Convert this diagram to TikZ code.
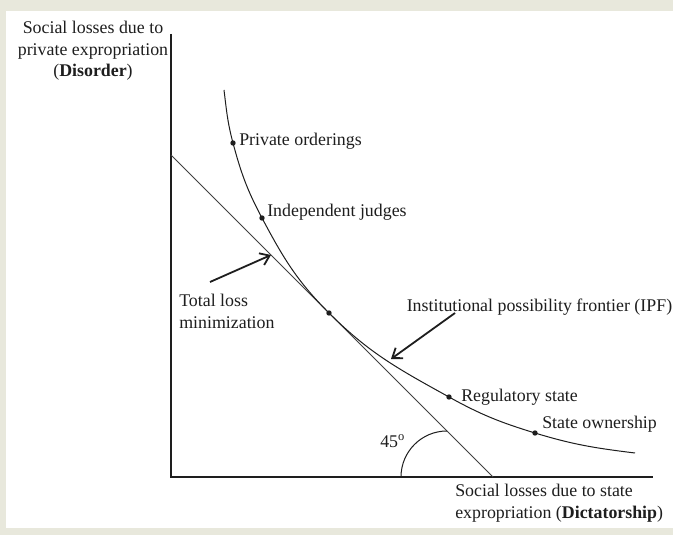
\documentclass[tikz,border=0pt]{standalone}
\usepackage{fontspec}
\setmainfont{Liberation Serif}
\usetikzlibrary{arrows.meta}
\definecolor{pagebg}{RGB}{232,232,220}
\definecolor{ink}{RGB}{30,30,30}

\begin{document}
\begin{tikzpicture}[x=0.025cm, y=0.025cm,
    lbl/.style={inner sep=0pt, text=ink, font=\fontsize{12.7}{15.3}\selectfont},
    pointer/.style={-{Straight Barb[length=2.2mm, width=3.2mm]}, line width=.45mm, ink},
    axis/.style={line width=.35mm, ink},
    thinline/.style={line width=.25mm, ink}]

        \fill[pagebg](0, 0) rectangle (673, 535);
        \fill[white](6, 7) rectangle (673, 524);
        \useasboundingbox(0, 0) rectangle (673, 535);

        % axes
        \coordinate (ytop) at(171, 501);
        \coordinate (orig) at(171, 58);
        \coordinate (xend) at(653, 58);
        \draw[axis](ytop) -- (orig) -- (xend);

        % 45 degree line
        \coordinate (lntop) at(171, 380);
        \coordinate (lnbot) at(493, 58);
        \draw[thinline, ink!85](lntop) to (lnbot);

        % frontier
        \coordinate (ipf0) at(224, 445);
        \coordinate (po) at(233, 392);
        \coordinate (ij) at(262, 317);
        \coordinate (tl) at(329, 222);
        \coordinate (rs) at(449, 138);
        \coordinate (so) at(535, 102);
        \coordinate (ipf1) at(635, 82);
        \draw[thinline](ipf0) to[out=-83, in=105] (po)
            to[out=-75, in=118] (ij)
            to[out=-62, in=135] (tl)
            to[out=-45, in=151] (rs)
            to[out=-29, in=163] (so)
            to[out=-17, in=173] (ipf1);
        \foreach \p in {po, ij, tl, rs, so}
            \fill[ink](\p) circle (1.9pt);

        \node[lbl, anchor=base west] (polab) at(239, 389){Private orderings};
        \node[lbl, anchor=base west] (ijlab) at(267, 318){Independent judges};
        \node[lbl, anchor=base west] (rslab) at(461, 134){Regulatory state};
        \node[lbl, anchor=base west] (solab) at(542, 107){State ownership};

        % pointers
        \node[lbl, align=left, anchor=north west] (tlm) at(179, 241){Total loss\\minimization};
        \coordinate (tlmtail) at(210, 253);
        \coordinate (tlmhead) at(271, 280);
        \draw[pointer](tlmtail) to (tlmhead);

        \node[lbl, anchor=base west] (ipflab) at(406.5, 223){Institutional possibility frontier (IPF)};
        \coordinate (ipftail) at(455, 222);
        \coordinate (ipfhead) at(391, 176);
        \draw[pointer](ipftail) to (ipfhead);

        % angle
        \coordinate (arcst) at(401, 58);
        \draw[thinline](arcst) arc[start angle=180, end angle=90, radius=1.15cm];
        \node[lbl, anchor=base west] (deg) at(380, 88){45\textsuperscript{o}};

        % axis labels
        \node[lbl, align=center] (ylab) at(93, 484){Social losses due to\\private expropriation\\(\textbf{Disorder})};
        \node[lbl, align=left, anchor=north west] (xlab) at(455, 51){Social losses due to state\\expropriation (\textbf{Dictatorship})};

\end{tikzpicture}
\end{document}
